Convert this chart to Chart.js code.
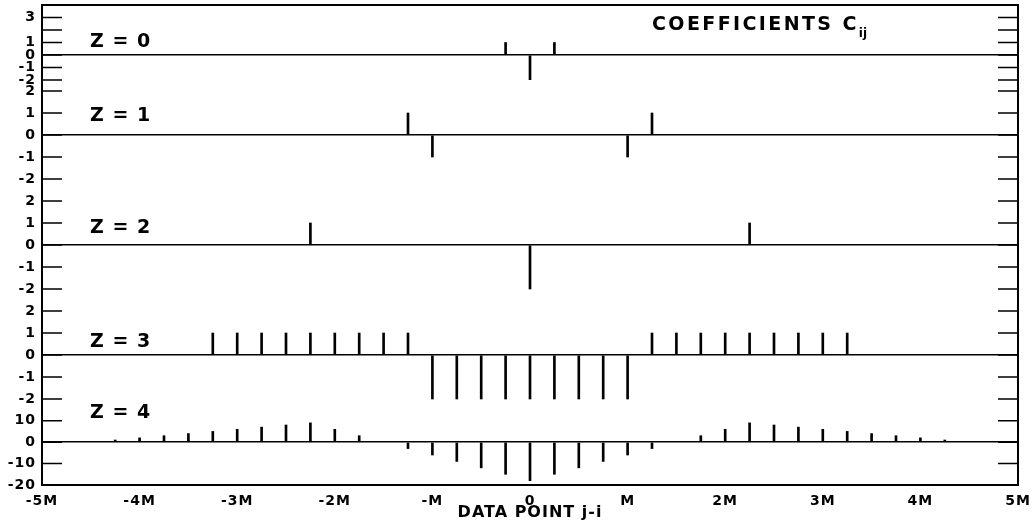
<!DOCTYPE html>
<html>
<head>
<meta charset="utf-8">
<script src="https://cdn.jsdelivr.net/npm/chart.js@4/dist/chart.umd.min.js"></script>
<style>
  html, body { margin: 0; padding: 0; background: #fff; }
  #wrap { width: 1034px; height: 522px; }
</style>
</head>
<body>
<div id="wrap"><canvas id="coefChart"></canvas></div>
<script>
// panel names (one y axis per panel)
const panelNames = ['Z = 0', 'Z = 1', 'Z = 2', 'Z = 3', 'Z = 4'];

// spike positions (in units of M) and coefficient values
const z0Pos = [-0.25, 0, 0.25];
const z0Val = [1, -2, 1];

const z1Pos = [-1.25, -1, 1, 1.25];
const z1Val = [1, -1, -1, 1];

const z2Pos = [-2.25, 0, 2.25];
const z2Val = [1, -2, 1];

const z3Pos = [-3.25, -3, -2.75, -2.5, -2.25, -2, -1.75, -1.5, -1.25,
               -1, -0.75, -0.5, -0.25, 0, 0.25, 0.5, 0.75, 1,
               1.25, 1.5, 1.75, 2, 2.25, 2.5, 2.75, 3, 3.25];
const z3Val = [1, 1, 1, 1, 1, 1, 1, 1, 1,
               -2, -2, -2, -2, -2, -2, -2, -2, -2,
               1, 1, 1, 1, 1, 1, 1, 1, 1];

const z4Pos = [-4.25, -4, -3.75, -3.5, -3.25, -3, -2.75, -2.5, -2.25, -2, -1.75,
               -1.25, -1, -0.75, -0.5, -0.25, 0, 0.25, 0.5, 0.75, 1, 1.25,
               1.75, 2, 2.25, 2.5, 2.75, 3, 3.25, 3.5, 3.75, 4, 4.25];
const z4Val = [1, 2, 3, 4, 5, 6, 7, 8, 9, 6, 3,
               -3, -6, -9, -12, -15, -18, -15, -12, -9, -6, -3,
               3, 6, 9, 8, 7, 6, 5, 4, 3, 2, 1];

const allPos = [z0Pos, z1Pos, z2Pos, z3Pos, z4Pos];
const allVal = [z0Val, z1Val, z2Val, z3Val, z4Val];

// x axis ticks
const xTickVals = [-5, -4, -3, -2, -1, 0, 1, 2, 3, 4, 5];
const xTickLabels = ['-5M', '-4M', '-3M', '-2M', '-M', '0', 'M', '2M', '3M', '4M', '5M'];

// y axis ranges and ticks per panel
const yMin = [-2, -2.5, -2.5, -2.5, -20];
const yMax = [4, 2.5, 2.5, 2.5, 15];
const yTickVals = [
  [-2, -1, 0, 1, 2, 3],
  [-2, -1, 0, 1, 2],
  [-2, -1, 0, 1, 2],
  [-2, -1, 0, 1, 2],
  [-20, -10, 0, 10]
];
const yTickLabels = [
  ['-2', '-1', '0', '1', '', '3'],
  ['-2', '-1', '0', '1', '2'],
  ['-2', '-1', '0', '1', '2'],
  ['-2', '-1', '0', '1', '2'],
  ['-20', '-10', '0', '10']
];

const panelWeight = [75, 110, 110, 110, 75];
const labelLift = [13, 19, 17, 13, 29];
const FONT = '"DejaVu Sans", "Liberation Sans", Arial, sans-serif';

const datasets = allPos.map((pos, i) => ({
  label: panelNames[i],
  data: pos.map((x, k) => ({ x: x, y: allVal[i][k] })),
  yAxisID: 'y' + i,
  backgroundColor: '#000',
  borderWidth: 0,
  barThickness: 2,
  grouped: false
}));

const scales = {
  x: {
    type: 'linear',
    min: -5,
    max: 5,
    offset: false,
    afterBuildTicks: s => { s.ticks = xTickVals.map(v => ({ value: v })); },
    afterFit: s => { s.height = 37; s.paddingLeft = 0; s.paddingRight = 0; },
    grid: { display: false, drawTicks: false },
    border: { display: false },
    ticks: {
      autoSkip: false,
      maxRotation: 0,
      padding: 8,
      color: '#000',
      font: { family: FONT, weight: 'bold', size: 14 },
      callback: (v, idx) => xTickLabels[idx]
    },
    title: {
      display: true,
      text: 'DATA POINT j-i',
      color: '#000',
      padding: { top: 0, bottom: 0 },
      font: { family: FONT, weight: 'bold', size: 16 }
    }
  }
};

// stacked axes are laid out last-defined on top, so add them in reverse
for (let i = panelNames.length - 1; i >= 0; i--) {
  scales['y' + i] = {
    type: 'linear',
    position: 'left',
    stack: 'panels',
    stackWeight: panelWeight[i],
    min: yMin[i],
    max: yMax[i],
    afterBuildTicks: s => { s.ticks = yTickVals[i].map(v => ({ value: v })); },
    afterFit: s => { s.width = 42; s.paddingTop = 0; s.paddingBottom = 0; },
    grid: {
      drawTicks: false,
      color: c => (c.tick && c.tick.value === 0 ? '#000' : 'rgba(0,0,0,0)'),
      lineWidth: 1.6
    },
    border: { display: false },
    ticks: {
      autoSkip: false,
      padding: 6,
      color: '#000',
      font: { family: FONT, weight: 'bold', size: 14 },
      callback: (v, idx) => yTickLabels[i][idx]
    }
  };
}

const decor = {
  id: 'decor',
  beforeDraw(chart) {
    chart.ctx.letterSpacing = '1px';
  },
  afterDatasetsDraw(chart) {
    const ctx = chart.ctx;
    const a = chart.chartArea;
    ctx.save();
    ctx.strokeStyle = '#000';
    ctx.fillStyle = '#000';
    ctx.lineWidth = 1.6;
    panelNames.forEach((name, i) => {
      const s = chart.scales['y' + i];
      yTickVals[i].forEach(v => {
        const py = s.getPixelForValue(v);
        ctx.beginPath();
        ctx.moveTo(a.left, py); ctx.lineTo(a.left + 20, py);
        ctx.moveTo(a.right - 20, py); ctx.lineTo(a.right, py);
        ctx.stroke();
      });
      ctx.font = 'bold 19px ' + FONT;
      ctx.letterSpacing = '1px';
      ctx.textBaseline = 'middle';
      ctx.textAlign = 'left';
      ctx.fillText(name, a.left + 48, s.getPixelForValue(0) - labelLift[i]);
    });
    ctx.lineWidth = 2;
    ctx.strokeRect(a.left, a.top, a.right - a.left, a.bottom - a.top);

    ctx.textBaseline = 'alphabetic';
    ctx.font = 'bold 19px ' + FONT;
    ctx.letterSpacing = '2.4px';
    ctx.fillText('COEFFICIENTS C', 652, 30);
    const w = ctx.measureText('COEFFICIENTS C').width;
    ctx.font = 'bold 12px ' + FONT;
    ctx.letterSpacing = '0px';
    ctx.fillText('ij', 652 + w, 37);
    ctx.restore();
  }
};

new Chart(document.getElementById('coefChart'), {
  type: 'bar',
  data: { datasets: datasets },
  options: {
    responsive: true,
    maintainAspectRatio: false,
    animation: false,
    layout: { padding: { top: 5, right: 16, left: 0, bottom: 0 } },
    plugins: {
      legend: { display: false },
      tooltip: { enabled: false }
    },
    scales: scales
  },
  plugins: [decor]
});
</script>
</body>
</html>
